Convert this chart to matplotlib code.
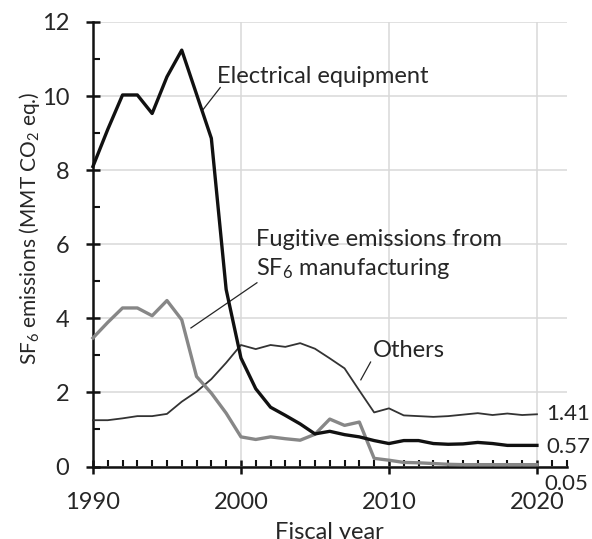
import matplotlib
matplotlib.use("Agg")
import matplotlib.pyplot as plt
from matplotlib.ticker import MultipleLocator

plt.rcParams['font.family'] = ['Lato', 'DejaVu Sans']
plt.rcParams['mathtext.fontset'] = 'custom'
plt.rcParams['mathtext.rm'] = 'Lato'
plt.rcParams['mathtext.it'] = 'Lato:italic'

years = list(range(1990, 2021))

# SF6 emissions by source, MMT CO2 eq.
electrical = [8.10, 9.10, 10.03, 10.03, 9.53, 10.52, 11.24, 10.05, 8.86, 4.78, 2.93,
              2.10, 1.60, 1.38, 1.15, 0.88, 0.95, 0.86, 0.80, 0.70, 0.62,
              0.70, 0.70, 0.62, 0.60, 0.61, 0.65, 0.62, 0.57, 0.57, 0.57]
others = [1.25, 1.25, 1.30, 1.36, 1.36, 1.42, 1.75, 2.02, 2.36, 2.80, 3.28,
          3.17, 3.28, 3.23, 3.33, 3.18, 2.92, 2.65, 2.05, 1.46, 1.57,
          1.38, 1.36, 1.34, 1.36, 1.40, 1.44, 1.39, 1.43, 1.39, 1.41]
fugitive = [3.47, 3.89, 4.28, 4.28, 4.07, 4.48, 3.96, 2.43, 1.98, 1.44, 0.80,
            0.73, 0.80, 0.75, 0.71, 0.87, 1.28, 1.11, 1.20, 0.22, 0.17,
            0.11, 0.10, 0.08, 0.06, 0.05, 0.05, 0.05, 0.05, 0.05, 0.05]

FS = 17
TXT = '#262626'

fig = plt.figure(figsize=(5.92, 5.39), dpi=100)
ax = fig.add_axes([0.157, 0.1345, 0.80, 0.8247])

ax.plot(years, others, color='#333333', lw=1.3, clip_on=False, zorder=3)
ax.plot(years, fugitive, color='#878787', lw=2.4, clip_on=False, zorder=4)
ax.plot(years, electrical, color='#111111', lw=2.4, clip_on=False, zorder=5)

ax.set_xlim(1990, 2022)
ax.set_ylim(0, 12)
ax.xaxis.set_minor_locator(MultipleLocator(1))
ax.yaxis.set_major_locator(MultipleLocator(2))
ax.yaxis.set_minor_locator(MultipleLocator(1))
ax.set_xticks([1990, 2000, 2010, 2020])

ax.grid(True, which='major', color='#d9d9d9', lw=1.1, zorder=0)
ax.set_axisbelow(True)
for s in ['top', 'right']:
    ax.spines[s].set_visible(False)
for s in ['left', 'bottom']:
    ax.spines[s].set_linewidth(1.8)
    ax.spines[s].set_color('#111111')

ax.tick_params(which='major', direction='inout', length=10, width=1.8,
               colors='#111111', labelsize=FS, labelcolor=TXT)
ax.tick_params(which='minor', direction='in', length=5, width=1.5, colors='#111111')
ax.tick_params(axis='x', which='major', pad=13)
ax.tick_params(axis='y', which='major', pad=12)

fig.text(0.05, 0.577, r'SF$_6$ emissions (MMT CO$_2$ eq.)', rotation=90,
         ha='center', va='center', fontsize=15, color=TXT)
fig.text(0.557, 0.0, 'Fiscal year', ha='center', va='baseline',
         fontsize=FS, color=TXT)

# series labels with leader lines
ax.text(1998.4, 10.36, 'Electrical equipment', fontsize=FS, color=TXT,
        ha='left', va='baseline')
ax.plot([1998.6, 1997.45], [10.23, 9.64], color=TXT, lw=0.9)

ax.text(2001.05, 5.95, 'Fugitive emissions from', fontsize=FS, color=TXT,
        ha='left', va='baseline')
ax.text(2001.05, 5.18, r'SF$_6$ manufacturing', fontsize=FS, color=TXT,
        ha='left', va='baseline')
ax.plot([2001.08, 1996.62], [4.96, 3.74], color=TXT, lw=0.9)

ax.text(2008.9, 2.96, 'Others', fontsize=FS, color=TXT, ha='left', va='baseline')
ax.plot([2008.76, 2008.1], [2.82, 2.34], color=TXT, lw=0.9)

# end-of-series values
for val, dx, dy in [(others[-1], 7.0, -4.3), (electrical[-1], 7.0, -5.5),
                    (fugitive[-1], 5.6, -18.2)]:
    ax.annotate(f'{val:.2f}', xy=(years[-1], val), xytext=(dx, dy),
                textcoords='offset points', fontsize=16, color=TXT,
                ha='left', va='baseline', annotation_clip=False)

fig.savefig('out.png', dpi=100)
